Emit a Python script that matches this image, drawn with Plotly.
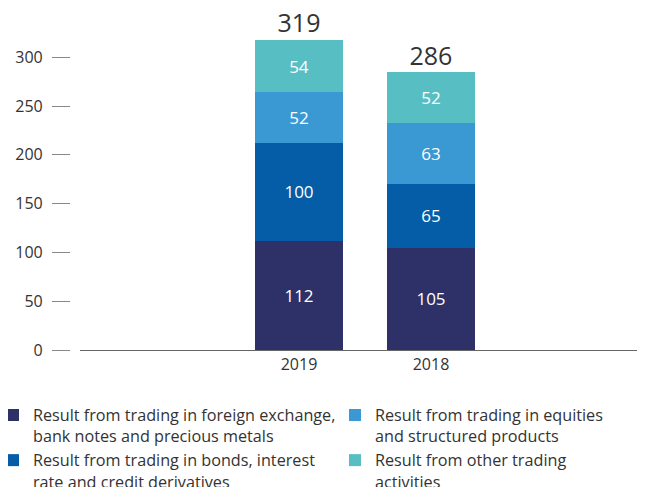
import plotly.graph_objects as go

years = ["2019", "2018"]
fx = [112, 105]
bonds = [100, 65]
equities = [52, 63]
other = [54, 52]
totals = [319, 286]

series = [
    ("Result from trading in foreign exchange,<br>bank notes and precious metals", fx, "#2E3168", "legend"),
    ("Result from trading in bonds, interest<br>rate and credit derivatives", bonds, "#055DA8", "legend"),
    ("Result from trading in equities<br>and structured products", equities, "#3A98D2", "legend2"),
    ("Result from other trading<br>activities", other, "#57BFC4", "legend2"),
]

FONT = "Open Sans"
fig = go.Figure()
for name, vals, color, leg in series:
    fig.add_trace(go.Bar(
        x=years, y=vals, name=name, marker_color=color, marker_line_width=0,
        text=[str(v) for v in vals], textposition="inside", insidetextanchor="middle",
        textfont=dict(color="white", size=17, family=FONT), width=0.66,
        legend=leg, hoverinfo="skip",
    ))

fig.add_trace(go.Scatter(
    x=years, y=totals, mode="text", text=[str(t) for t in totals],
    textposition="top center", textfont=dict(size=25, color="#333333", family=FONT),
    showlegend=False, hoverinfo="skip", cliponaxis=False,
))

legend_style = dict(orientation="v", xanchor="left", yanchor="top", y=-0.149,
                    traceorder="normal", valign="top", itemwidth=30, tracegroupgap=0,
                    font=dict(size=16.2, color="#333333", family=FONT),
                    bgcolor="rgba(0,0,0,0)")

fig.update_layout(
    width=645, height=487, barmode="stack",
    margin=dict(l=32, r=0, t=20, b=145, autoexpand=False),
    plot_bgcolor="white", paper_bgcolor="white",
    font=dict(family=FONT, color="#333333"),
    xaxis=dict(type="category", domain=[0.0653, 1], range=[-1.659, 2.682], showline=True,
               linecolor="#666666", linewidth=1.2, ticks="", showgrid=False,
               tickfont=dict(size=16, color="#333333")),
    yaxis=dict(range=[0, 330], anchor="free", position=0.0489, showline=False,
               showgrid=False, zeroline=False, ticks="outside", ticklen=18,
               tickcolor="#888888", tickwidth=1, tickvals=[0, 50, 100, 150, 200, 250, 300],
               tickfont=dict(size=16, color="#333333"), ticklabelstandoff=6),
    legend=dict(x=-0.0767, **legend_style),
    legend2=dict(x=0.4812, **legend_style),
    showlegend=True,
)

fig.write_html("out.html")
